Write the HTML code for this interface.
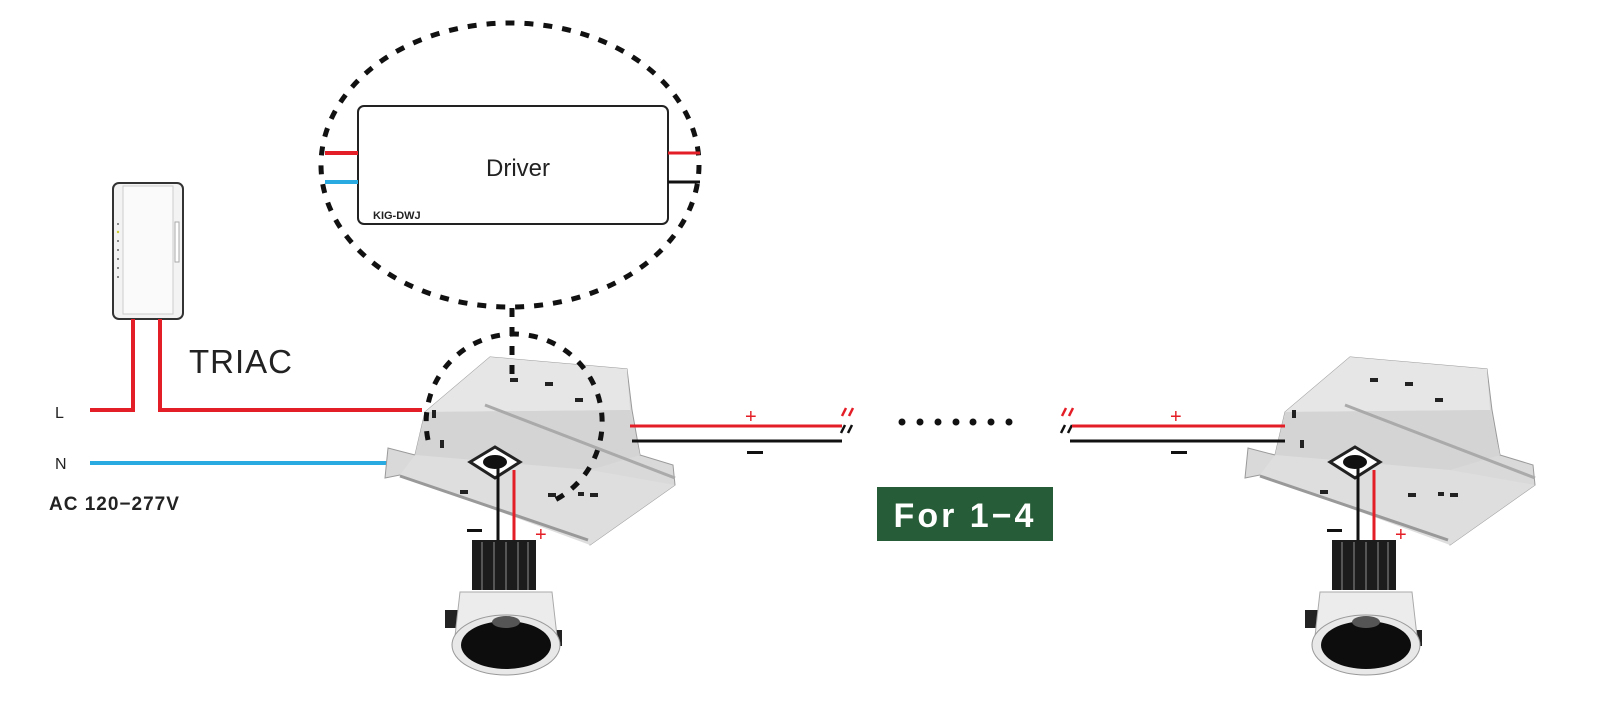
<!DOCTYPE html>
<html><head><meta charset="utf-8"><style>
html,body{margin:0;padding:0;background:#fff;width:1600px;height:706px;overflow:hidden}
svg{display:block}
text{font-family:"Liberation Sans",sans-serif}
</style></head><body>
<svg width="1600" height="706" viewBox="0 0 1600 706" xmlns="http://www.w3.org/2000/svg">
<defs>
<g id="fix">
  <!-- housing -->
  <polygon points="490,357 627,369 632,410 640,455 673,465 675,485 590,545 580,535 400,475 385,478 388,448 415,455 425,412" fill="#d9d9d9" stroke="#9a9a9a" stroke-width="1"/>
  <polygon points="490,357 627,369 630,410 425,412" fill="#e6e6e6"/>
  <polygon points="425,412 630,410 640,455 590,470 415,455" fill="#d4d4d4"/>
  <polygon points="415,455 590,470 675,485 590,545 400,475" fill="#dedede"/>
  <line x1="400" y1="476" x2="588" y2="540" stroke="#999" stroke-width="3"/>
  <line x1="485" y1="405" x2="675" y2="478" stroke="#aaa" stroke-width="3"/>
  <g fill="#222">
    <rect x="510" y="378" width="8" height="4"/><rect x="545" y="382" width="8" height="4"/><rect x="575" y="398" width="8" height="4"/>
    <rect x="432" y="410" width="4" height="8"/><rect x="440" y="440" width="4" height="8"/><rect x="460" y="490" width="8" height="4"/>
    <rect x="590" y="493" width="8" height="4"/><rect x="578" y="492" width="6" height="4"/><rect x="548" y="493" width="8" height="4"/>
  </g>
  <polygon points="470,462 495,447 520,462 495,478" fill="#fff" stroke="#222" stroke-width="3"/>
  <ellipse cx="495" cy="462" rx="13" ry="8" fill="#111" stroke="#fff" stroke-width="2"/>
  <!-- wires to light -->
  <line x1="498" y1="468" x2="498" y2="548" stroke="#111" stroke-width="3"/>
  <line x1="514" y1="470" x2="514" y2="548" stroke="#e41e26" stroke-width="3"/>
  <!-- light -->
  <rect x="472" y="540" width="64" height="50" fill="#1c1c1c"/>
  <g stroke="#555" stroke-width="2"><line x1="482" y1="542" x2="482" y2="590"/><line x1="494" y1="542" x2="494" y2="590"/><line x1="506" y1="542" x2="506" y2="590"/><line x1="518" y1="542" x2="518" y2="590"/><line x1="528" y1="542" x2="528" y2="590"/></g>
  <rect x="445" y="610" width="20" height="18" fill="#222"/>
  <rect x="548" y="630" width="14" height="16" fill="#222"/>
  <path d="M460,592 L552,592 L558,645 L454,645 Z" fill="#ececec" stroke="#aaa"/>
  <ellipse cx="506" cy="645" rx="54" ry="30" fill="#e8e8e8" stroke="#999"/>
  <ellipse cx="506" cy="645" rx="45" ry="24" fill="#0d0d0d"/>
  <ellipse cx="506" cy="622" rx="14" ry="6" fill="#555"/>
</g>
</defs>

<!-- dimmer -->
<rect x="113" y="183" width="70" height="136" rx="6" fill="#f3f3f3" stroke="#333" stroke-width="2"/>
<rect x="123" y="186" width="50" height="128" fill="#fafafa" stroke="#ccc"/>
<rect x="175" y="222" width="4" height="40" fill="#fff" stroke="#aaa"/>
<g fill="#666"><circle cx="118" cy="224" r="1"/><circle cx="118" cy="232" r="1.2" fill="#cc3"/><circle cx="118" cy="241" r="1"/><circle cx="118" cy="250" r="1"/><circle cx="118" cy="259" r="1"/><circle cx="118" cy="268" r="1"/><circle cx="118" cy="277" r="1"/></g>

<!-- AC wires -->
<polyline points="90,410 133,410 133,319" fill="none" stroke="#e41e26" stroke-width="4"/>
<polyline points="160,319 160,410 422,410" fill="none" stroke="#e41e26" stroke-width="4"/>
<line x1="90" y1="463" x2="410" y2="463" stroke="#29abe2" stroke-width="4"/>
<text x="55" y="418" font-size="16" fill="#222">L</text>
<text x="55" y="469" font-size="16" fill="#222">N</text>
<text x="49" y="510" font-size="19" font-weight="bold" fill="#222" letter-spacing="1">AC 120−277V</text>
<text x="189" y="373" font-size="33" fill="#222" letter-spacing="1">TRIAC</text>

<!-- fixtures -->
<use href="#fix"/>
<use href="#fix" transform="translate(860,0)"/>

<!-- output wires -->
<line x1="630" y1="426" x2="842" y2="426" stroke="#e41e26" stroke-width="3"/>
<line x1="632" y1="441" x2="842" y2="441" stroke="#111" stroke-width="3"/>
<g stroke-width="2.5"><line x1="842" y1="416" x2="846" y2="408" stroke="#e41e26"/><line x1="849" y1="416" x2="853" y2="408" stroke="#e41e26"/>
<line x1="841" y1="433" x2="845" y2="425" stroke="#111"/><line x1="848" y1="433" x2="852" y2="425" stroke="#111"/></g>
<text x="745" y="423" font-size="20" fill="#e41e26">+</text>
<rect x="747" y="451" width="16" height="3" fill="#111"/>
<g fill="#111"><circle cx="902" cy="422" r="3.5"/><circle cx="920" cy="422" r="3.5"/><circle cx="938" cy="422" r="3.5"/><circle cx="956" cy="422" r="3.5"/><circle cx="973" cy="422" r="3.5"/><circle cx="991" cy="422" r="3.5"/><circle cx="1009" cy="422" r="3.5"/></g>
<g stroke-width="2.5"><line x1="1062" y1="416" x2="1066" y2="408" stroke="#e41e26"/><line x1="1069" y1="416" x2="1073" y2="408" stroke="#e41e26"/>
<line x1="1061" y1="433" x2="1065" y2="425" stroke="#111"/><line x1="1068" y1="433" x2="1072" y2="425" stroke="#111"/></g>
<line x1="1072" y1="426" x2="1285" y2="426" stroke="#e41e26" stroke-width="3"/>
<line x1="1070" y1="441" x2="1285" y2="441" stroke="#111" stroke-width="3"/>
<text x="1170" y="423" font-size="20" fill="#e41e26">+</text>
<rect x="1171" y="451" width="16" height="3" fill="#111"/>

<!-- +/- at lights -->
<rect x="467" y="529" width="15" height="3" fill="#111"/>
<text x="535" y="541" font-size="20" fill="#e41e26">+</text>
<rect x="1327" y="529" width="15" height="3" fill="#111"/>
<text x="1395" y="541" font-size="20" fill="#e41e26">+</text>

<!-- For 1-4 -->
<rect x="877" y="487" width="176" height="54" fill="#265c37"/>
<text x="965" y="527" font-size="34" font-weight="bold" fill="#fff" text-anchor="middle" letter-spacing="3">For 1−4</text>

<!-- dotted callout -->
<ellipse cx="510" cy="165" rx="189" ry="142" fill="none" stroke="#111" stroke-width="5" stroke-dasharray="9 10"/>
<line x1="512" y1="308" x2="512" y2="382" stroke="#111" stroke-width="5" stroke-dasharray="9 10"/>
<path d="M428,440 A88,88 0 1 1 555,500" fill="none" stroke="#111" stroke-width="5" stroke-dasharray="9 10"/>

<!-- driver -->
<rect x="358" y="106" width="310" height="118" rx="6" fill="#fff" stroke="#222" stroke-width="2"/>
<line x1="325" y1="153" x2="358" y2="153" stroke="#e41e26" stroke-width="4"/>
<line x1="325" y1="182" x2="358" y2="182" stroke="#29abe2" stroke-width="4"/>
<line x1="668" y1="153" x2="700" y2="153" stroke="#e41e26" stroke-width="3"/>
<line x1="668" y1="182" x2="700" y2="182" stroke="#111" stroke-width="3"/>
<text x="518" y="176" font-size="24" fill="#222" text-anchor="middle">Driver</text>
<text x="373" y="219" font-size="11" font-weight="bold" fill="#222">KIG-DWJ</text>
</svg>
</body></html>
